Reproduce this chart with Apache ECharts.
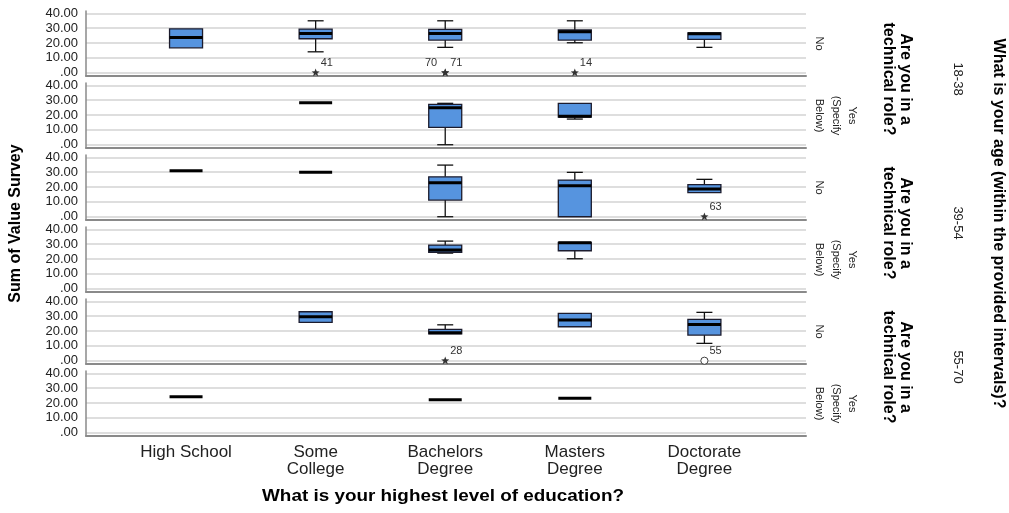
<!DOCTYPE html>
<html>
<head>
<meta charset="utf-8">
<script src="https://cdn.jsdelivr.net/npm/echarts@6/dist/echarts.min.js"></script>
<style>
  html, body { margin: 0; padding: 0; background: #fff; }
  #main { width: 1009px; height: 513px; }
</style>
</head>
<body>
<div id="main"></div>
<script>
var education = ['High School', 'Some\nCollege', 'Bachelors\nDegree', 'Masters\nDegree', 'Doctorate\nDegree'];
var ageGroups = ['18-38', '39-54', '55-70'];
var techRoles = ['No', 'Yes\n(Specify\nBelow)'];
var yTicks = [0, 10, 20, 30, 40];

// [education index, min, Q1, median, Q3, max]
var box1838No = [
  [0, 16.8, 16.8, 23.8, 29.6, 29.6],
  [1, 14.1, 22.9, 26.5, 29.4, 35],
  [2, 17.1, 22, 26.5, 29.2, 35],
  [3, 20.2, 22, 27.6, 28.8, 35],
  [4, 17.1, 22.5, 26.3, 26.9, 26.9]
];
var box1838Yes = [
  [1, 28.3, 28.3, 28.3, 28.3, 28.3],
  [2, 0, 11.7, 24.9, 27.2, 27.9],
  [3, 17.3, 18.6, 19.2, 27.9, 27.9]
];
var box3954No = [
  [0, 31, 31, 31, 31, 31],
  [1, 29.9, 29.9, 29.9, 29.9, 29.9],
  [2, 0, 11.2, 22.9, 26.9, 34.8],
  [3, 0, 0, 20.9, 24.7, 29.9],
  [4, 16.2, 16.2, 18.7, 21.6, 25.2]
];
var box3954Yes = [
  [2, 24, 24.6, 26.1, 29.4, 32.1],
  [3, 20.2, 25.6, 31, 31.3, 31.3]
];
var box5570No = [
  [1, 25.9, 25.9, 29.6, 33, 33],
  [2, 18.2, 18.2, 18.8, 21.1, 24.2],
  [3, 22.9, 22.9, 27.4, 31.9, 31.9],
  [4, 11.7, 17.3, 24.5, 27.9, 32.6]
];
var box5570Yes = [
  [0, 24.2, 24.2, 24.2, 24.2, 24.2],
  [2, 22.2, 22.2, 22.2, 22.2, 22.2],
  [3, 23.2, 23.2, 23.2, 23.2, 23.2]
];

// extremes (star) and outliers (circle): [education index, value, case number]
var extreme1838No = [[1, 0, '41'], [2, 0, '70'], [2, 0, '71'], [3, 0, '14']];
var extreme3954No = [[4, 0, '63']];
var extreme5570No = [[2, 0, '28']];
var outlier5570No = [[4, 0, '55']];

var panels = [box1838No, box1838Yes, box3954No, box3954Yes, box5570No, box5570Yes];
var marks = [
  { panel: 0, list: extreme1838No, shape: 'star' },
  { panel: 2, list: extreme3954No, shape: 'star' },
  { panel: 4, list: extreme5570No, shape: 'star' },
  { panel: 4, list: outlier5570No, shape: 'circle' }
];

var FONT = '"Liberation Sans", Arial, sans-serif';

function renderBox(params, api) {
  var x = api.value(0);
  var pLo = api.coord([x, api.value(1)]);
  var pQ1 = api.coord([x, api.value(2)]);
  var pMed = api.coord([x, api.value(3)]);
  var pQ3 = api.coord([x, api.value(4)]);
  var pHi = api.coord([x, api.value(5)]);
  var cx = pMed[0], hw = 16.5, cw = 8;
  var ln = { stroke: '#111', lineWidth: 1.3 };
  var kids = [];
  if (pQ3[1] - pHi[1] > 0.5) {
    kids.push({ type: 'line', shape: { x1: cx, y1: pQ3[1], x2: cx, y2: pHi[1] }, style: ln });
    kids.push({ type: 'line', shape: { x1: cx - cw, y1: pHi[1], x2: cx + cw, y2: pHi[1] }, style: ln });
  }
  if (pLo[1] - pQ1[1] > 0.5) {
    kids.push({ type: 'line', shape: { x1: cx, y1: pQ1[1], x2: cx, y2: pLo[1] }, style: ln });
    kids.push({ type: 'line', shape: { x1: cx - cw, y1: pLo[1], x2: cx + cw, y2: pLo[1] }, style: ln });
  }
  if (pQ1[1] - pQ3[1] > 0.5) {
    kids.push({
      type: 'rect',
      shape: { x: cx - hw, y: pQ3[1], width: hw * 2, height: pQ1[1] - pQ3[1] },
      style: { fill: '#5694df', stroke: '#1c1c2e', lineWidth: 1.3 }
    });
  }
  kids.push({ type: 'line', shape: { x1: cx - hw, y1: pMed[1], x2: cx + hw, y2: pMed[1] }, style: { stroke: '#000', lineWidth: 3 } });
  return { type: 'group', children: kids };
}

function starPoints(cx, cy, r1, r2) {
  var pts = [];
  for (var i = 0; i < 10; i++) {
    var a = -Math.PI / 2 + i * Math.PI / 5;
    var r = i % 2 === 0 ? r1 : r2;
    pts.push([cx + r * Math.cos(a), cy + r * Math.sin(a)]);
  }
  return pts;
}

function makeMarkRenderer(list, shape) {
  return function (params, api) {
    var i = params.dataIndex;
    var p = api.coord([api.value(0), api.value(1)]);
    var item = list[i];
    var next = list[i + 1];
    var leftSide = next && next[0] === item[0] && next[1] === item[1];
    var kids = [];
    if (shape === 'star') {
      kids.push({ type: 'polygon', shape: { points: starPoints(p[0], p[1], 4.3, 1.8) }, style: { fill: '#333' } });
    } else {
      kids.push({ type: 'circle', shape: { cx: p[0], cy: p[1], r: 3.6 }, style: { fill: '#fff', stroke: '#444', lineWidth: 1 } });
    }
    kids.push({
      type: 'text',
      x: leftSide ? p[0] - 8 : p[0] + 5,
      y: p[1] - 10,
      style: { text: item[2], fill: '#333', font: '11px ' + FONT, align: leftSide ? 'right' : 'left', verticalAlign: 'middle' }
    });
    return { type: 'group', children: kids };
  };
}

var grids = [], xAxes = [], yAxes = [], series = [];
for (var k = 0; k < panels.length; k++) {
  var last = k === panels.length - 1;
  grids.push({ left: 86, width: 720, top: 11 + 72 * k, height: 65 });
  xAxes.push({
    gridIndex: k,
    type: 'value',
    min: -0.772,
    max: 4.784,
    axisLine: { show: true, onZero: false, lineStyle: { color: '#8a8a8a', width: 2 } },
    axisTick: { show: false },
    splitLine: { show: false },
    axisLabel: last ? {
      customValues: [0, 1, 2, 3, 4],
      formatter: function (v) { return education[Math.round(v)]; },
      fontFamily: FONT,
      fontSize: 17,
      lineHeight: 17,
      color: '#222',
      margin: 8
    } : { show: false }
  });
  yAxes.push({
    gridIndex: k,
    type: 'value',
    min: -2.2,
    max: 41.6,
    axisLine: { show: true, onZero: false, lineStyle: { color: '#8a8a8a', width: 1.5 } },
    axisTick: { show: false, customValues: yTicks },
    axisLabel: {
      customValues: yTicks,
      formatter: function (v) { return v === 0 ? '.00' : v.toFixed(2); },
      fontFamily: FONT,
      fontSize: 13,
      color: '#222',
      margin: 8
    },
    splitLine: { show: true, lineStyle: { color: '#d3d3d3', width: 1.5 } }
  });
  series.push({
    type: 'custom',
    xAxisIndex: k,
    yAxisIndex: k,
    renderItem: renderBox,
    encode: { x: 0, y: [1, 2, 3, 4, 5] },
    data: panels[k],
    silent: true
  });
}
marks.forEach(function (m) {
  series.push({
    type: 'custom',
    xAxisIndex: m.panel,
    yAxisIndex: m.panel,
    renderItem: makeMarkRenderer(m.list, m.shape),
    encode: { x: 0, y: 1 },
    data: m.list.map(function (d) { return [d[0], d[1]]; }),
    silent: true
  });
});

var graphics = [];
graphics.push({
  type: 'text', x: 16, y: 223.5, rotation: Math.PI / 2,
  style: { text: 'Sum of Value Survey', font: 'bold 16px ' + FONT, fill: '#000', align: 'center', verticalAlign: 'middle' }
});
graphics.push({
  type: 'text', x: 443, y: 497, scaleX: 1.18,
  style: { text: 'What is your highest level of education?', font: 'bold 16px ' + FONT, fill: '#000', align: 'center', verticalAlign: 'middle' }
});
for (var r = 0; r < panels.length; r++) {
  graphics.push({
    type: 'text', x: 811, y: 43.5 + 72 * r, rotation: -Math.PI / 2,
    style: { text: techRoles[r % 2], font: '11px ' + FONT, lineHeight: 16.5, fill: '#222', align: 'center', verticalAlign: 'bottom' }
  });
}
for (var j = 0; j < ageGroups.length; j++) {
  graphics.push({
    type: 'text', x: 896.5, y: 79 + 144 * j, rotation: -Math.PI / 2,
    style: { text: 'Are you in a\ntechnical role?', font: 'bold 16px ' + FONT, lineHeight: 17, fill: '#000', align: 'center', verticalAlign: 'middle' }
  });
  graphics.push({
    type: 'text', x: 958, y: 79 + 144 * j, rotation: -Math.PI / 2,
    style: { text: ageGroups[j], font: '13px ' + FONT, fill: '#222', align: 'center', verticalAlign: 'middle' }
  });
}
graphics.push({
  type: 'text', x: 998, y: 223.5, rotation: -Math.PI / 2,
  style: { text: 'What is your age (within the provided intervals)?', font: 'bold 16px ' + FONT, fill: '#000', align: 'center', verticalAlign: 'middle' }
});

var chart = echarts.init(document.getElementById('main'));
chart.setOption({
  animation: false,
  backgroundColor: '#fff',
  grid: grids,
  xAxis: xAxes,
  yAxis: yAxes,
  series: series,
  graphic: graphics
});
</script>
</body>
</html>
